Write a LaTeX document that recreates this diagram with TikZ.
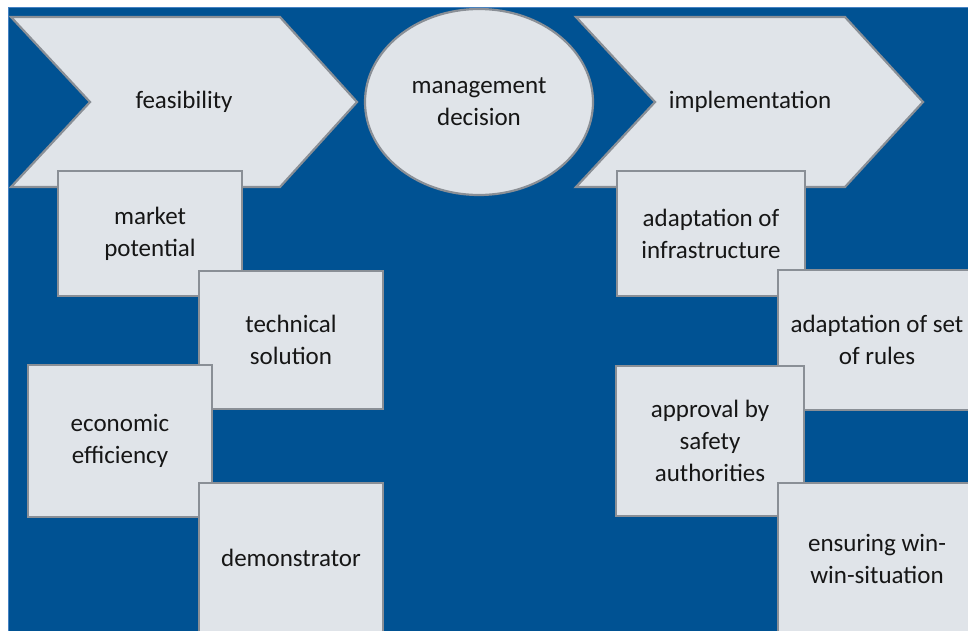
\documentclass[tikz,border=0pt]{standalone}
\usepackage{fontspec}
\setmainfont{Carlito}
\usetikzlibrary{shapes.geometric}

\definecolor{bgblue}{RGB}{0,82,147}
\definecolor{edgeblue}{RGB}{70,130,195}
\definecolor{boxfill}{RGB}{224,228,233}
\definecolor{boxline}{RGB}{138,143,150}
\definecolor{txtcol}{RGB}{22,22,22}

\tikzset{
  stage/.style={fill=boxfill, draw=boxline, line width=2.2pt, line join=miter},
  box/.style={rectangle, fill=boxfill, draw=boxline, line width=2.2pt, align=center,
              text=txtcol, font=\fontsize{25}{32}\selectfont},
  lbl/.style={align=center, text=txtcol, font=\fontsize{25}{32}\selectfont}
}

\begin{document}
\begin{tikzpicture}[x=1pt, y=-1pt]

 \useasboundingbox (0,0) rectangle (968,630);
 \clip (0,0) rectangle (968,630);
 \fill[white] (0,0) rectangle (968,630);
 \draw[fill=bgblue, draw=edgeblue, line width=1pt] (8.5,7.5) rectangle (972,640);

 % phases
 \draw[stage] (11,17) -- (280,17) -- (357,102) -- (280,187) -- (11,187) -- (90,102) -- cycle;
 \node[lbl] (feas) at (184,102) {feasibility};

 \node[ellipse, stage, minimum width=228pt, minimum height=186pt, lbl] (decision) at (479,102) {management\\decision};

 \draw[stage] (576,17) -- (845,17) -- (923,102) -- (845,187) -- (576,187) -- (655,102) -- cycle;
 \node[lbl] (impl) at (750,102) {implementation};

 %feasibility steps
 \node[box, minimum width=184pt, minimum height=125pt] (market) at (150,233.5) {market\\potential};
 \node[box, minimum width=184pt, minimum height=138pt] (tech) at (291,340) {technical\\solution};
 \node[box, minimum width=184pt, minimum height=152pt] (econ) at (120,441) {economic\\efficiency};
 \node[box, minimum width=184pt, minimum height=150pt] (demo) at (291,558) {demonstrator};

 %implementation steps
 \node[box, minimum width=188pt, minimum height=125pt] (infra) at (711,233.5) {adaptation of\\infrastructure};
 \node[box, minimum width=198pt, minimum height=140pt] (rules) at (877,340) {adaptation of set\\of rules};
 \node[box, minimum width=188pt, minimum height=150pt] (approval) at (710,441) {approval by\\safety\\authorities};
 \node[box, minimum width=198pt, minimum height=152pt] (winwin) at (877,559) {ensuring win-\\win-situation};

\end{tikzpicture}
\end{document}
